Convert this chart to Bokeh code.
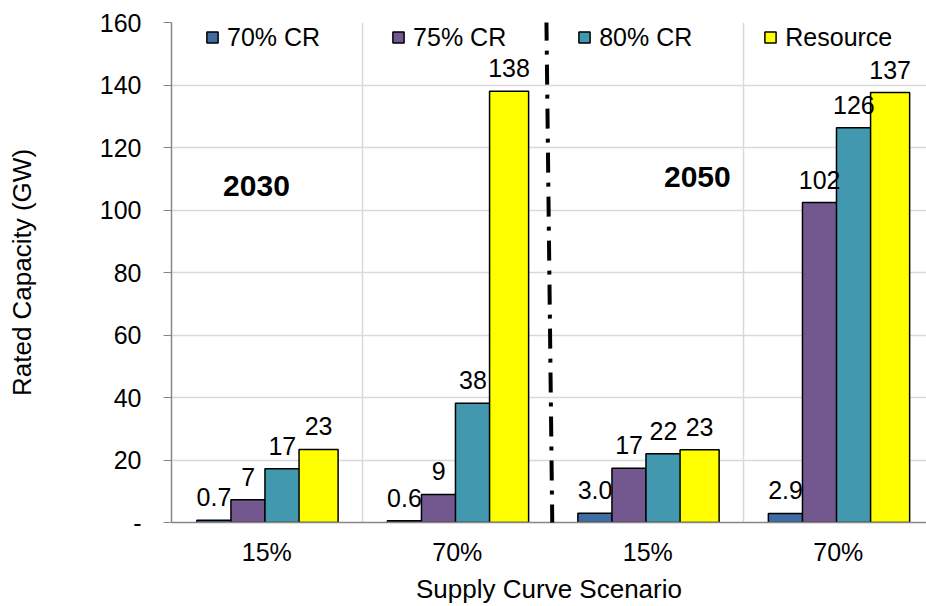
from bokeh.plotting import figure
from bokeh.models import (Range1d, FixedTicker, Legend, LegendItem, Label,
                          Arrow, ColumnDataSource, LabelSet)
from bokeh.core.properties import value
from bokeh.embed import file_html
from bokeh.resources import INLINE

# ---- data ----
categories = ["15%", "70%", "15%", "70%"]
period_labels = ["2030", "2050"]
series_names = ["70% CR", "75% CR", "80% CR", "Resource"]
cr70 = [0.7, 0.6, 3.0, 2.9]
cr75 = [7.3, 9.0, 17.4, 102.4]
cr80 = [17.2, 38.2, 22.0, 126.3]
resource = [23.4, 138.0, 23.3, 137.6]
labels70 = ["0.7", "0.6", "3.0", "2.9"]
labels75 = ["7", "9", "17", "102"]
labels80 = ["17", "38", "22", "126"]
labels_res = ["23", "138", "23", "137"]
y_ticks = [0, 20, 40, 60, 80, 100, 120, 140, 160]

# ---- styles ----
colors = ["#3F6CA3", "#72588E", "#4198AF", "#FFFF00"]
offsets = [-0.277, -0.098, 0.082, 0.272]
widths = [0.18, 0.18, 0.183, 0.205]
FONT = "Liberation Sans"
FS = "25px"

p = figure(width=926, height=606, output_backend="svg", toolbar_location=None,
           x_range=Range1d(0, 3.963), y_range=Range1d(0, 160),
           min_border_left=171, min_border_right=0, min_border_top=22,
           min_border_bottom=84)
p.outline_line_color = None
p.background_fill_color = "white"

# grids
p.ygrid.ticker = FixedTicker(ticks=y_ticks)
p.ygrid.grid_line_color = "#D9D9D9"
p.ygrid.grid_line_width = 1.5
p.xgrid.ticker = FixedTicker(ticks=[1, 3])
p.xgrid.grid_line_color = "#D9D9D9"
p.xgrid.grid_line_width = 1.5

# axes
p.yaxis.ticker = FixedTicker(ticks=y_ticks)
p.yaxis.major_label_overrides = {0: "-"}
p.yaxis.axis_line_color = "#868686"
p.yaxis.axis_line_width = 1.5
p.yaxis.major_tick_line_color = "#868686"
p.yaxis.major_tick_out = 8
p.yaxis.major_tick_in = 0
p.yaxis.minor_tick_line_color = None
p.yaxis.major_label_standoff = 22
p.yaxis.major_label_text_font = FONT
p.yaxis.major_label_text_font_size = FS
p.yaxis.major_label_text_color = "black"
p.yaxis.axis_label = "Rated Capacity (GW)"
p.yaxis.axis_label_text_font = FONT
p.yaxis.axis_label_text_font_size = "26px"
p.yaxis.axis_label_text_font_style = "normal"
p.yaxis.axis_label_text_color = "black"
p.yaxis.axis_label_standoff = 60

tick_pos = [i + 0.5 for i in range(len(categories))]
p.xaxis.ticker = FixedTicker(ticks=tick_pos)
p.xaxis.major_label_overrides = {t: c for t, c in zip(tick_pos, categories)}
p.xaxis.axis_line_color = "#868686"
p.xaxis.axis_line_width = 1.5
p.xaxis.major_tick_line_color = None
p.xaxis.minor_tick_line_color = None
p.xaxis.major_label_standoff = 9
p.xaxis.major_label_text_font = FONT
p.xaxis.major_label_text_font_size = FS
p.xaxis.major_label_text_color = "black"
p.xaxis.axis_label = "Supply Curve Scenario"
p.xaxis.axis_label_text_font = FONT
p.xaxis.axis_label_text_font_size = "26px"
p.xaxis.axis_label_text_font_style = "normal"
p.xaxis.axis_label_text_color = "black"
p.xaxis.axis_label_standoff = 5

# bars
all_vals = [cr70, cr75, cr80, resource]
all_labels = [labels70, labels75, labels80, labels_res]
items = []
for name, vals, labs, col, off, w in zip(series_names, all_vals, all_labels,
                                         colors, offsets, widths):
    src = ColumnDataSource(dict(x=[i + 0.5 + off for i in range(len(vals))],
                                top=vals, lab=labs))
    r = p.vbar(x="x", top="top", width=w, source=src, fill_color=col,
               line_color="black", line_width=1.5)
    items.append(LegendItem(label=name, renderers=[r]))
    p.add_layout(LabelSet(x="x", y="top", text="lab", source=src,
                          text_align="center", text_baseline="alphabetic",
                          y_offset=14, text_font=value(FONT),
                          text_font_size=value(FS),
                          text_color=value("black")))

legend = Legend(items=items, orientation="horizontal", location=(34, 470),
                padding=0, margin=0, spacing=71, glyph_width=14,
                glyph_height=14, label_standoff=8,
                label_height=30, label_text_font=FONT,
                label_text_font_size=FS, label_text_color="black",
                border_line_color=None, background_fill_alpha=0)
p.add_layout(legend)

# period labels
p.add_layout(Label(x=0.446, y=107.8, text=period_labels[0], text_align="center",
                   text_baseline="middle", text_font=FONT, text_color="black",
                   text_font_size="30px", text_font_style="bold"))
p.add_layout(Label(x=2.76, y=110.7, text=period_labels[1], text_align="center",
                   text_baseline="middle", text_font=FONT, text_color="black",
                   text_font_size="30px", text_font_style="bold"))

# separator
p.add_layout(Arrow(x_start=1.968, y_start=160.6, x_end=2.0, y_end=-7.4,
                   start=None, end=None, line_color="black", line_width=4,
                   line_dash="20 10 4 10"))

open("out.html", "w").write(file_html(p, INLINE))
